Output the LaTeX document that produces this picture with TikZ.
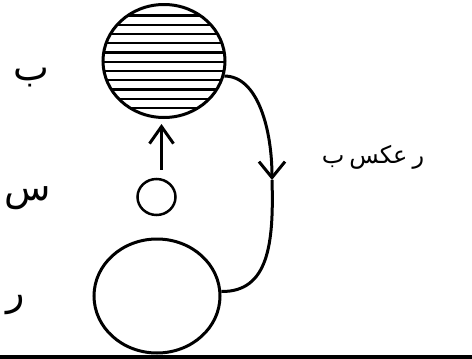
\documentclass[tikz,border=0pt]{standalone}
\usepackage{fontspec}
\newfontfamily\arabicfont[Script=Arabic]{DejaVu Sans}
\TeXXeTstate=1
\usetikzlibrary{shapes.geometric,arrows.meta}

\begin{document}
\begin{tikzpicture}[
    x=1pt, y=-1pt,
    ring/.style={ellipse, draw, line width=3pt, inner sep=0pt},
    lbl/.style={font=\fontsize{38}{42}\selectfont\arabicfont, inner sep=0pt},
    note/.style={font=\fontsize{24}{28}\selectfont\arabicfont, inner sep=0pt},
    uparrow/.style={-{Straight Barb[length=17pt,width=24pt,line width=3pt]}, line width=3pt},
    downarrow/.style={-{Straight Barb[length=16pt,width=26pt,line width=3pt]}, line width=3pt}
]
\useasboundingbox (0,0) rectangle (472,359);

\node[ring, minimum width=122pt, minimum height=113pt] (ice) at (164,61) {};
\node[ring, line width=2.5pt, minimum width=38pt, minimum height=36pt] (drop) at (156.5,197) {};
\node[ring, minimum width=126pt, minimum height=114pt] (water) at (157,296) {};

% hatching of the top circle
\begin{scope}
\clip (164,61) ellipse [x radius=61pt, y radius=56.5pt];
\foreach \k in {0,...,10}
  \draw[line width=2.2pt] (100,15.5+9.25*\k) -- (230,15.5+9.25*\k);
\end{scope}

\node[lbl] (lb) at (31,78) {\beginR ب\endR};
\node[lbl] (ls) at (28,198) {\beginR س\endR};
\node[lbl] (lr) at (16,305) {\beginR ر\endR};
\node[note] (lrev) at (373,157) {\spaceskip=5pt\relax\beginR ر عکس ب\endR};

\coordinate (mid) at (272,180);
\draw[uparrow, shorten >=5pt] ([xshift=5pt,yshift=8pt]drop.north) -- ([xshift=5pt]drop.north |- ice.south);
\draw[downarrow] (ice.-14) .. controls (258,76) and (272,130) .. (mid);
\draw[line width=3pt] (mid) .. controls (274,245) and (268,292) .. (water.4);

% ground line
\draw[line width=3.5pt] (0,357) -- (472,357);
\end{tikzpicture}
\end{document}
